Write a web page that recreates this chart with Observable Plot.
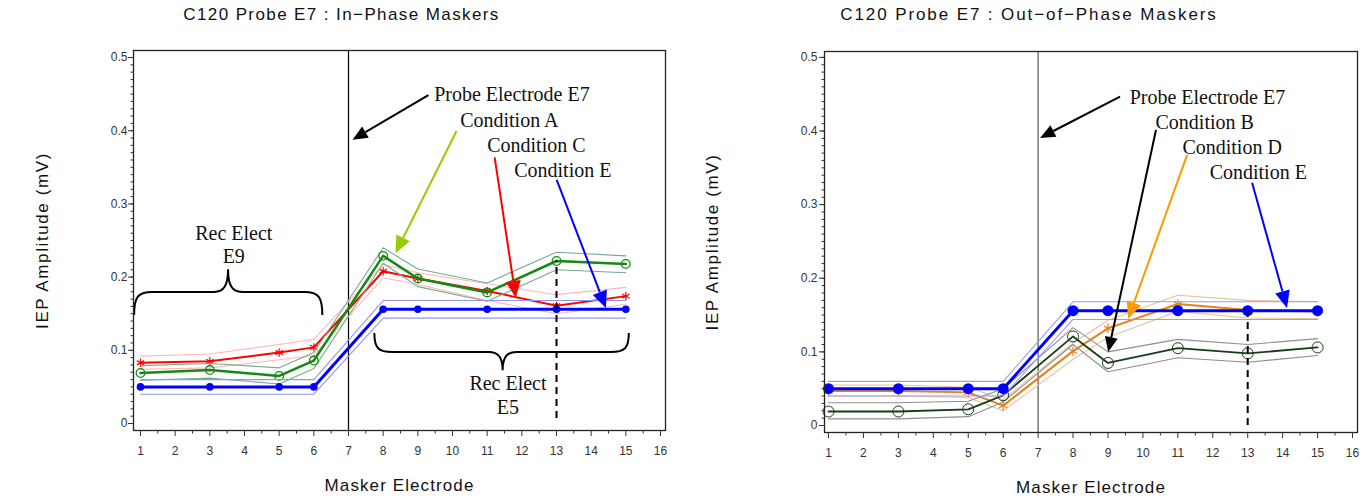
<!DOCTYPE html>
<html><head><meta charset="utf-8">
<script src="https://cdn.jsdelivr.net/npm/d3@7"></script>
<script src="https://cdn.jsdelivr.net/npm/@observablehq/plot@0.6"></script>
<style>
body{margin:0;background:#fff;}
#wrap{position:relative;width:1370px;height:498px;overflow:hidden;background:#fff;}
#left,#right{position:absolute;top:0;}
#left{left:0;} #right{left:685px;}
</style></head><body><div id="wrap"><div id="left"></div><div id="right"></div></div>
<script>
// ---------- data ----------
const electrodes = [1, 3, 5, 6, 8, 9, 11, 13, 15];
const xTicks = d3.range(1, 17);
const yTicks = [0, 0.1, 0.2, 0.3, 0.4, 0.5];

const leftTitle = "C120 Probe E7 : In\u2212Phase Maskers";
const rightTitle = "C120 Probe E7 : Out\u2212of\u2212Phase Maskers";
const xTitle = "Masker Electrode";
const yTitle = "IEP Amplitude (mV)";

// In-phase maskers
const inA   = [0.069, 0.073, 0.065, 0.086, 0.229, 0.198, 0.179, 0.222, 0.218];
const inAhi = [0.079, 0.082, 0.076, 0.097, 0.240, 0.211, 0.192, 0.234, 0.229];
const inAlo = [0.059, 0.062, 0.054, 0.075, 0.219, 0.187, 0.167, 0.210, 0.206];
const inC   = [0.083, 0.085, 0.097, 0.104, 0.208, 0.198, 0.181, 0.161, 0.174];
const inChi = [0.092, 0.095, 0.108, 0.115, 0.217, 0.206, 0.191, 0.176, 0.186];
const inClo = [0.074, 0.076, 0.087, 0.093, 0.199, 0.190, 0.168, 0.150, 0.163];
const inE   = [0.050, 0.050, 0.050, 0.050, 0.156, 0.156, 0.156, 0.156, 0.156];
const inEhi = [0.060, 0.060, 0.060, 0.060, 0.168, 0.168, 0.168, 0.168, 0.168];
const inElo = [0.040, 0.040, 0.040, 0.040, 0.144, 0.144, 0.144, 0.144, 0.144];

// Out-of-phase maskers
const outB   = [0.019, 0.019, 0.022, 0.041, 0.121, 0.085, 0.105, 0.098, 0.106];
const outBhi = [0.031, 0.031, 0.033, 0.050, 0.133, 0.100, 0.117, 0.110, 0.118];
const outBlo = [0.009, 0.009, 0.012, 0.032, 0.110, 0.073, 0.092, 0.086, 0.095];
const outD   = [0.047, 0.047, 0.045, 0.027, 0.101, 0.132, 0.165, 0.157, 0.155];
const outDhi = [0.055, 0.055, 0.052, 0.035, 0.112, 0.143, 0.177, 0.170, 0.168];
const outDlo = [0.040, 0.040, 0.038, 0.020, 0.090, 0.120, 0.155, 0.146, 0.145];
const outE   = [0.050, 0.050, 0.050, 0.050, 0.156, 0.156, 0.156, 0.156, 0.156];
const outEhi = [0.060, 0.060, 0.060, 0.060, 0.168, 0.168, 0.168, 0.168, 0.168];
const outElo = [0.040, 0.040, 0.040, 0.040, 0.144, 0.144, 0.144, 0.144, 0.144];

// annotations (data coordinates)
const leftLabels = [
  {x: 9.47, y: 0.449, text: "Probe Electrode E7"},
  {x: 10.22, y: 0.414, text: "Condition A"},
  {x: 11.0, y: 0.380, text: "Condition C"},
  {x: 11.78, y: 0.346, text: "Condition E"}
];
const leftArrows = [
  {x1: 9.32, y1: 0.448, x2: 7.13, y2: 0.387, color: "#000000"},
  {x1: 10.13, y1: 0.399, x2: 8.37, y2: 0.232, color: "#99cc00"},
  {x1: 11.23, y1: 0.363, x2: 11.84, y2: 0.171, color: "#ff0000"},
  {x1: 13.02, y1: 0.332, x2: 14.44, y2: 0.157, color: "#0000ff"}
];
const rightLabels = [
  {x: 9.62, y: 0.446, text: "Probe Electrode E7"},
  {x: 10.36, y: 0.412, text: "Condition B"},
  {x: 11.13, y: 0.378, text: "Condition D"},
  {x: 11.91, y: 0.344, text: "Condition E"}
];
const rightArrows = [
  {x1: 9.36, y1: 0.446, x2: 7.07, y2: 0.390, color: "#000000"},
  {x1: 10.39, y1: 0.401, x2: 9.02, y2: 0.099, color: "#000000"},
  {x1: 11.28, y1: 0.367, x2: 9.59, y2: 0.144, color: "#ff9900"},
  {x1: 13.14, y1: 0.329, x2: 14.14, y2: 0.159, color: "#0000ff"}
];
const braces = [
  {x1: 0.83, x2: 6.26, xm: 3.54, yEnd: 0.1475, yBar: 0.179, yCusp: 0.210},
  {x1: 7.76, x2: 15.1, xm: 11.46, yEnd: 0.123, yBar: 0.097, yCusp: 0.072}
];
const braceLabels = [
  {x: 3.69, y: 0.260, text: "Rec Elect"},
  {x: 3.69, y: 0.228, text: "E9"},
  {x: 11.6, y: 0.055, text: "Rec Elect"},
  {x: 11.6, y: 0.022, text: "E5"}
];

// ---------- helpers ----------
const rows = (vals, lo, hi) => electrodes.map((x, i) => ({x, v: vals[i], lo: lo[i], hi: hi[i]}));
const fmtY = d => d === 0 ? "0" : d.toFixed(1);
const serif = "'Liberation Serif', 'Times New Roman', serif";
const sans = "'Liberation Sans', Arial, sans-serif";

function arrowMark(arrows) {
  return (index, scales) => {
    const g = d3.create("svg:g");
    for (const a of arrows) {
      const x1 = scales.x(a.x1), y1 = scales.y(a.y1), x2 = scales.x(a.x2), y2 = scales.y(a.y2);
      const ang = Math.atan2(y2 - y1, x2 - x1);
      const black = a.color === "#000000";
      const L = black ? 15 : 17, W = black ? 6.5 : 7.5;
      const bx = x2 - L * Math.cos(ang), by = y2 - L * Math.sin(ang);
      g.append("line").attr("x1", x1).attr("y1", y1).attr("x2", bx).attr("y2", by)
        .attr("stroke", a.color).attr("stroke-width", 2);
      const pts = [[x2, y2], [bx - W * Math.sin(ang), by + W * Math.cos(ang)], [bx + W * Math.sin(ang), by - W * Math.cos(ang)]];
      g.append("polygon").attr("points", pts.map(p => p.join(",")).join(" ")).attr("fill", a.color);
    }
    return g.node();
  };
}
function braceMark(list) {
  return (index, scales) => {
    const g = d3.create("svg:g");
    for (const b of list) {
      const x1 = scales.x(b.x1), x2 = scales.x(b.x2), xm = scales.x(b.xm);
      const ye = scales.y(b.yEnd), yb = scales.y(b.yBar), yc = scales.y(b.yCusp);
      const r = 18, rc = 14;
      const p = d3.path();
      p.moveTo(x1, ye);
      p.bezierCurveTo(x1, yb + (ye - yb) * 0.2, x1 + 4, yb, x1 + r, yb);
      p.lineTo(xm - rc, yb);
      p.bezierCurveTo(xm - 4, yb, xm, yb - (yb - yc) * 0.3, xm, yc);
      p.bezierCurveTo(xm, yb - (yb - yc) * 0.3, xm + 4, yb, xm + rc, yb);
      p.lineTo(x2 - r, yb);
      p.bezierCurveTo(x2 - 4, yb, x2, yb + (ye - yb) * 0.2, x2, ye);
      g.append("path").attr("d", p.toString()).attr("fill", "none").attr("stroke", "#000").attr("stroke-width", 2);
    }
    return g.node();
  };
}
function axes(opts) {
  return [
    Plot.frame({stroke: "#222", strokeWidth: 1.3}),
    Plot.axisX({ticks: xTicks, tickSize: 6, tickPadding: 10, fontSize: 12, tickFormat: d => String(d), color: "#333", label: null}),
    Plot.axisX({ticks: d3.range(1.5, 16, 1), tickSize: 3.5, tickFormat: () => "", color: "#333", label: null}),
    Plot.axisY({ticks: yTicks, tickSize: 5, tickPadding: opts.yPad, fontSize: 12, tickFormat: fmtY, color: "#333", label: null}),
    Plot.axisY({ticks: d3.range(0, 0.5001, 0.01), tickSize: 2.5, tickFormat: () => "", color: "#333", label: null}),
    Plot.text([xTitle], {frameAnchor: "bottom", dy: 55, dx: opts.xTitleDx, textAnchor: "middle", lineAnchor: "middle", fontSize: 17, fontFamily: sans, fill: "#111"}),
    Plot.text([yTitle], {frameAnchor: "left", dx: opts.yTitleDx, rotate: -90, textAnchor: "middle", lineAnchor: "middle", fontSize: 17, fontFamily: sans, fill: "#111"}),
    Plot.text([opts.title], {frameAnchor: "top", dy: opts.titleDy, dx: opts.titleDx, textAnchor: "middle", lineAnchor: "middle", fontSize: 17, fontFamily: sans, fill: "#111"})
  ];
}
function series(data, color, bandColor, width, dotOpts) {
  return [
    Plot.line(data, {x: "x", y: "hi", stroke: bandColor, strokeWidth: 1.1}),
    Plot.line(data, {x: "x", y: "lo", stroke: bandColor, strokeWidth: 1.1}),
    Plot.line(data, {x: "x", y: "v", stroke: color, strokeWidth: width}),
    Plot.dot(data, {x: "x", y: "v", ...dotOpts})
  ];
}
function spacing(svg) {
  const sp = {[xTitle]: "1.1px", [yTitle]: "1.6px", [leftTitle]: "1.4px", [rightTitle]: "1.9px"};
  d3.select(svg).selectAll("text").each(function () {
    const s = sp[this.textContent];
    if (s) this.setAttribute("letter-spacing", s);
  });
}

// ---------- left panel ----------
const A = rows(inA, inAlo, inAhi), C = rows(inC, inClo, inChi), E = rows(inE, inElo, inEhi);
const left = Plot.plot({
  width: 685, height: 498,
  marginLeft: 133, marginRight: 20, marginTop: 50, marginBottom: 68,
  x: {domain: [0.798, 16.144], label: null},
  y: {domain: [-0.00956, 0.50956], label: null},
  style: {fontFamily: sans, background: "white", overflow: "visible"},
  marks: [
    Plot.ruleX([7], {stroke: "#000", strokeWidth: 1.2}),
    ...series(C, "#ff0000", "#ffb8b8", 2, {symbol: "asterisk", r: 4, stroke: "#ff0000", strokeWidth: 1.2}),
    ...series(A, "#138a13", "#78ab8c", 2.5, {symbol: "circle", r: 4.3, stroke: "#138a13", fill: "none", strokeWidth: 1.3}),
    ...series(E, "#0000ff", "#9494ee", 3, {symbol: "circle", r: 3.8, fill: "#0000ff"}),
    Plot.ruleX([13], {y1: 0.007, y2: 0.222, stroke: "#000", strokeWidth: 2, strokeDasharray: "7,5"}),
    braceMark(braces),
    Plot.text(braceLabels, {x: "x", y: "y", text: "text", fontFamily: serif, fontSize: 20, fill: "#111"}),
    arrowMark(leftArrows),
    Plot.text(leftLabels, {x: "x", y: "y", text: "text", textAnchor: "start", fontFamily: serif, fontSize: 20, fill: "#111"}),
    ...axes({title: leftTitle, titleDx: -58, titleDy: -36, xTitleDx: 0, yTitleDx: -91, yPad: 1})
  ]
});
spacing(left);
document.getElementById("left").appendChild(left);

// ---------- right panel ----------
const B = rows(outB, outBlo, outBhi), D = rows(outD, outDlo, outDhi), E2 = rows(outE, outElo, outEhi);
const right = Plot.plot({
  width: 685, height: 498,
  marginLeft: 139, marginRight: 13, marginTop: 51, marginBottom: 66,
  x: {domain: [0.885, 16.143], label: null},
  y: {domain: [-0.0095, 0.508], label: null},
  style: {fontFamily: sans, background: "white", overflow: "visible"},
  marks: [
    Plot.ruleX([7], {stroke: "#555", strokeWidth: 1.2}),
    ...series(D, "#e8801e", "#e8c29c", 2, {symbol: "asterisk", r: 4.5, stroke: "#e8801e", strokeWidth: 1.2}),
    ...series(B, "#173d17", "#8e8e8e", 1.8, {symbol: "circle", r: 5.5, stroke: "#173d17", fill: "none", strokeWidth: 1}),
    ...series(E2, "#0000ff", "#9a9aee", 3, {symbol: "circle", r: 5.5, fill: "#0000ff"}),
    Plot.ruleX([13], {y1: 0.0, y2: 0.155, stroke: "#000", strokeWidth: 2, strokeDasharray: "7,5"}),
    arrowMark(rightArrows),
    Plot.text(rightLabels, {x: "x", y: "y", text: "text", textAnchor: "start", fontFamily: serif, fontSize: 20, fill: "#111"}),
    ...axes({title: rightTitle, titleDx: -62, titleDy: -37, xTitleDx: 0, yTitleDx: -112, yPad: 2})
  ]
});
spacing(right);
document.getElementById("right").appendChild(right);
</script>
</body></html>
